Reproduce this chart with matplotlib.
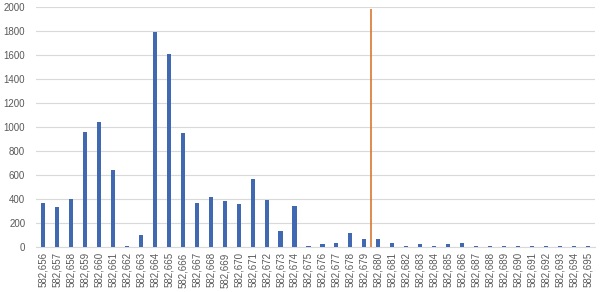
import matplotlib
matplotlib.use("Agg")
import matplotlib.pyplot as plt
import numpy as np


BLOCKS = list(range(582656, 582696))
COUNTS = [
    367, 328, 397, 959, 1040, 639, 8, 100, 1787, 1604,
    948, 364, 414, 378, 358, 567, 389, 133, 336, 5,
    25, 30, 111, 64, 64, 28, 3, 25, 3, 22,
    28, 2, 2, 2, 2, 2, 2, 2, 2, 2,
]
MARKER_POS = 23.5      # between 582,679 and 582,680
MARKER_TOP = 1978
Y_TICKS = list(range(0, 2001, 200))


def main() -> None:
    plt.rcParams.update({
        "font.family": ["Liberation Sans", "DejaVu Sans"],
        "font.size": 7.0,
    })

    fig = plt.figure(figsize=(6.0, 2.92), dpi=100)
    ax = fig.add_axes([0.0605, 0.155, 0.9305, 0.822])

    x = np.arange(len(BLOCKS))
    ax.bar(x, COUNTS, width=0.3, color="#4069B1", zorder=3)
    ax.vlines(MARKER_POS, 0, MARKER_TOP, color="#D9772E", linewidth=1.2, zorder=4)

    ax.set_xlim(-0.5, len(BLOCKS) - 0.5)
    ax.set_ylim(0, 2000)
    ax.set_yticks(Y_TICKS)
    ax.set_yticklabels([str(v) for v in Y_TICKS], color="#595959", fontsize=7)
    ax.set_xticks(x)
    ax.set_xticklabels([f"{b:,}" for b in BLOCKS], rotation=90, color="#595959", fontsize=7)
    ax.tick_params(axis="both", length=0, pad=4)
    ax.tick_params(axis="y", pad=8)

    ax.grid(axis="y", color="#D9D9D9", linewidth=0.8, zorder=0)
    for side in ("top", "right", "left"):
        ax.spines[side].set_visible(False)
    ax.spines["bottom"].set_color("#D9D9D9")
    ax.spines["bottom"].set_linewidth(0.8)

    fig.savefig("out.png", dpi=100)


if __name__ == "__main__":
    main()
